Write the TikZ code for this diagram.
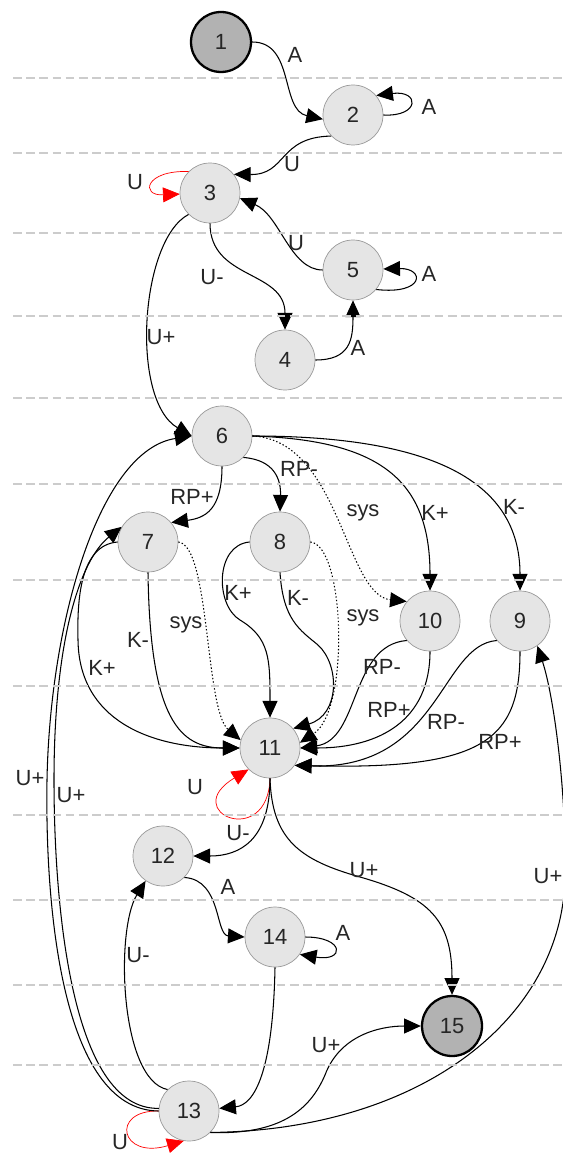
\documentclass[tikz,border=0pt]{standalone}
\usepackage{fontspec}
\setmainfont{Liberation Sans}
\usetikzlibrary{arrows.meta}

\tikzset{
  stnode/.style={circle, draw=black!40, fill=black!10, minimum size=1.2cm, inner sep=0pt, font=\fontsize{12.5}{14}\selectfont, text=black!85},
  endnode/.style={stnode, draw=black, line width=1.3pt, fill=black!30},
  trans/.style={line width=0.6pt, -{Triangle[length=9.5pt,width=8.5pt]}},
  dottrans/.style={trans, dash pattern=on 0.8pt off 1.2pt},
  redloop/.style={red, line width=0.4pt, -{Triangle[length=9.5pt,width=8.5pt]}},
  lbl/.style={font=\fontsize{12.5}{14}\selectfont, text=black!85, inner sep=1pt},
  rowline/.style={black!20, line width=1.2pt, dash pattern=on 5pt off 2.5pt},
}

\begin{document}
\begin{tikzpicture}[x=0.02cm, y=-0.02cm]
        \useasboundingbox (0,0) rectangle (562,1158);

        % states
        \node[endnode] (S1) at (221,42) {1};
        \node[stnode] (S2) at (353,115) {2};
        \node[stnode] (S3) at (210,193) {3};
        \node[stnode] (S5) at (353,270) {5};
        \node[stnode] (S4) at (285,360) {4};
        \node[stnode] (S6) at (222,436) {6};
        \node[stnode] (S7) at (148,542) {7};
        \node[stnode] (S8) at (280,542) {8};
        \node[stnode] (S10) at (430,621) {10};
        \node[stnode] (S9) at (520,621) {9};
        \node[stnode] (S11) at (270,748) {11};
        \node[stnode] (S12) at (163,856) {12};
        \node[stnode] (S14) at (275,937) {14};
        \node[endnode] (S15) at (452,1026) {15};
        \node[stnode] (S13) at (189,1111) {13};

        % top part
        \draw[trans] (S1.east) .. controls (295,42) and (280,110) .. (S2.188);
        \draw[trans] (S2.0) .. controls (420,117) and (420,90) .. (S2.40);
        \draw[trans] (S2.224) .. controls (278,137) and (287,175) .. (S3.38);
        \draw[redloop] (S3.135) .. controls (145,170) and (140,196) .. (S3.182);
        \draw[trans] (S5.180) .. controls (290,270) and (280,215) .. (S3.-10);
        \draw[trans] (S5.-40) .. controls (425,295) and (425,268) .. (S5.2);
        \draw[trans] (S3.south) .. controls (210,280) and (285,270) .. (S4.north);
        \draw[trans] (S4.east) .. controls (350,360) and (353,340) .. (S5.south);
        \draw[trans] (S3.225) .. controls (140,240) and (130,400) .. (S6.180);

        % from 6
        \draw[trans] (S6.south) .. controls (222,510) and (205,518) .. (S7.40);
        \draw[trans] (S6.-45) .. controls (275,460) and (281,480) .. (S8.north);
        \draw[dottrans] (S6.east) .. controls (340,440) and (345,595) .. (S10.140);
        \draw[trans] (S6.east) .. controls (380,440) and (430,480) .. (S10.north);
        \draw[trans] (S6.east) .. controls (430,436) and (520,480) .. (S9.north);

        % into 11
        \draw[dottrans] (S7.east) .. controls (210,545) and (205,710) .. (S11.165);
        \draw[trans] (S7.south) .. controls (150,720) and (180,748) .. (S11.180);
        \draw[trans] (S7.180) .. controls (80,545) and (77,600) .. (78,640)
            .. controls (79,720) and (150,748) .. (S11.180);
        \draw[trans] (S8.180) .. controls (215,545) and (215,605) .. (240,620)
            .. controls (270,638) and (270,660) .. (S11.north);
        \draw[trans] (S8.south) .. controls (283,620) and (300,630) .. (318,645)
            .. controls (340,665) and (340,715) .. (S11.40);
        \draw[dottrans] (S8.east) .. controls (345,545) and (350,710) .. (S11.10);
        \draw[trans] (S10.220) .. controls (350,645) and (360,740) .. (S11.0);
        \draw[trans] (S10.south) .. controls (430,720) and (380,748) .. (S11.0);
        \draw[trans] (S9.220) .. controls (440,645) and (440,770) .. (S11.-35);
        \draw[trans] (S9.south) .. controls (520,740) and (485,770) .. (S11.-35);

        % from 11
        \draw[redloop] (S11.south) .. controls (268,850) and (178,812) .. (S11.225);
        \draw[trans] (S11.south) .. controls (270,840) and (240,856) .. (S12.east);
        \draw[trans] (S11.south) .. controls (272,840) and (300,860) .. (360,877)
            .. controls (430,897) and (452,920) .. (S15.north);

        % bottom part
        \draw[trans] (S12.-45) .. controls (222,880) and (215,935) .. (S14.west);
        \draw[trans] (S14.east) .. controls (345,937) and (345,962) .. (S14.-35);
        \draw[trans] (S14.south) .. controls (273,1070) and (255,1105) .. (S13.5);
        \draw[trans] (S13.135) .. controls (120,1080) and (115,930) .. (S12.235);
        \draw[redloop] (S13.180) .. controls (110,1110) and (120,1160) .. (S13.-100);
        \draw[trans] (S13.-45) .. controls (280,1135) and (310,1110) .. (325,1075)
            .. controls (340,1035) and (380,1026) .. (S15.west);
        \draw[trans] (S13.-45) .. controls (420,1130) and (560,1020) .. (565,880)
            .. controls (567,800) and (555,700) .. (S9.-55);
        \draw[trans] (S13.180) .. controls (60,1110) and (45,900) .. (47,780)
            .. controls (50,620) and (100,450) .. (S6.180);
        \draw[trans] (S13.175) .. controls (70,1110) and (54,900) .. (54,780)
            .. controls (54,640) and (80,560) .. (S7.150);

        % labels
        \node[lbl] (L12) at (295,55) {A};
        \node[lbl] (L22) at (429,107) {A};
        \node[lbl] (L23) at (292,164) {U};
        \node[lbl] (L33) at (135,182) {U};
        \node[lbl] (L53) at (296,243) {U};
        \node[lbl] (L55) at (429,274) {A};
        \node[lbl] (L34) at (212,277) {U-};
        \node[lbl] (L45) at (358,348) {A};
        \node[lbl] (L36) at (161,337) {U+};
        \node[lbl] (L67) at (192,497) {RP+};
        \node[lbl] (L68) at (299,469) {RP-};
        \node[lbl] (L610s) at (363,513) {sys};
        \node[lbl] (L610) at (435,513) {K+};
        \node[lbl] (L69) at (514,507) {K-};
        \node[lbl] (L711s) at (186,625) {sys};
        \node[lbl] (L711m) at (138,640) {K-};
        \node[lbl] (L711p) at (102,668) {K+};
        \node[lbl] (L811p) at (238,593) {K+};
        \node[lbl] (L811m) at (298,598) {K-};
        \node[lbl] (L811s) at (363,618) {sys};
        \node[lbl] (L1011m) at (382,667) {RP-};
        \node[lbl] (L1011p) at (389,710) {RP+};
        \node[lbl] (L911m) at (446,722) {RP-};
        \node[lbl] (L911p) at (500,742) {RP+};
        \node[lbl] (L136) at (30,778) {U+};
        \node[lbl] (L137) at (71,795) {U+};
        \node[lbl] (L1111) at (195,787) {U};
        \node[lbl] (L1112) at (238,833) {U-};
        \node[lbl] (L1115) at (364,870) {U+};
        \node[lbl] (L139) at (548,876) {U+};
        \node[lbl] (L1214) at (228,887) {A};
        \node[lbl] (L1414) at (343,933) {A};
        \node[lbl] (L1312) at (138,955) {U-};
        \node[lbl] (L1315) at (326,1045) {U+};
        \node[lbl] (L1313) at (120,1142) {U};

        % rows
        \foreach \y in {78,153,233,316,398,484,580,686,815,900,985,1065}
            \draw[rowline] (13,\y) -- (562,\y);
\end{tikzpicture}
\end{document}
